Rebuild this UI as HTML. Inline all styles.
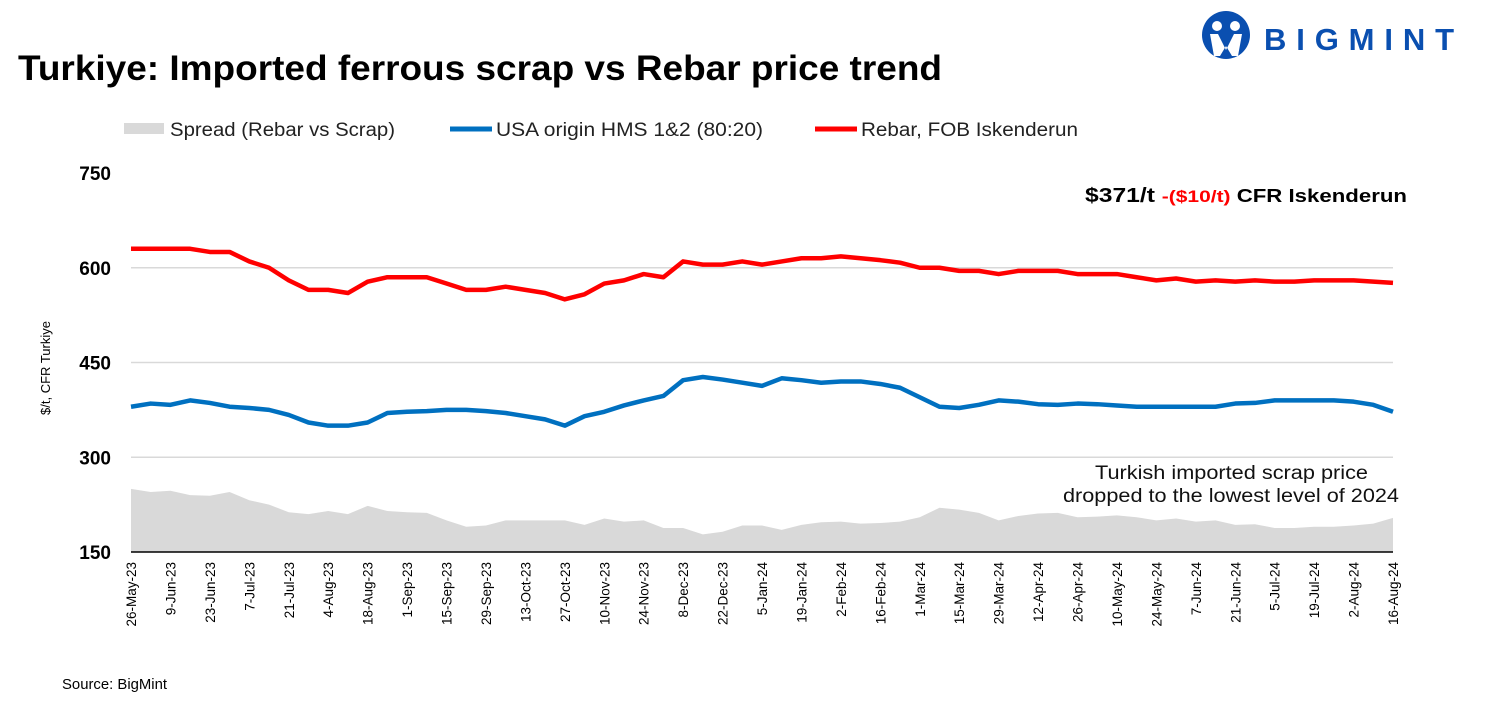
<!DOCTYPE html>
<html><head><meta charset="utf-8"><style>
body{margin:0;background:#fff;font-family:"Liberation Sans",Arial,sans-serif;}
#wrap{position:relative;width:1491px;height:728px;overflow:hidden;}
</style></head><body>
<div id="wrap">
<svg id="chart" width="1491" height="728" xmlns="http://www.w3.org/2000/svg">
  <text x="18" y="80" font-size="35" font-weight="bold" fill="#000" textLength="924" lengthAdjust="spacingAndGlyphs">Turkiye: Imported ferrous scrap vs Rebar price trend</text>
  <g>
    <circle cx="1226" cy="35" r="24" fill="#0a4fb0"/>
    <circle cx="1217" cy="26" r="5" fill="#fff"/>
    <circle cx="1235" cy="26" r="5" fill="#fff"/>
    <path d="M1210 34 L1218 34 L1226 50 L1234 34 L1242 34 L1238 56 L1232 56 L1226 46 L1220 56 L1214 56 Z" fill="#fff"/>
    <text x="1264" y="50" font-size="31" font-weight="bold" fill="#0a4fb0" textLength="190" lengthAdjust="spacing">BIGMINT</text>
  </g>
  <g>
    <rect x="124" y="123" width="40" height="11" fill="#d9d9d9"/>
    <text x="170" y="136" font-size="19" fill="#222" textLength="225" lengthAdjust="spacingAndGlyphs">Spread (Rebar vs Scrap)</text>
    <line x1="450" y1="129" x2="492" y2="129" stroke="#0070c0" stroke-width="5"/>
    <text x="496" y="136" font-size="19" fill="#222" textLength="267" lengthAdjust="spacingAndGlyphs">USA origin HMS 1&amp;2 (80:20)</text>
    <line x1="815" y1="129" x2="857" y2="129" stroke="#ff0000" stroke-width="5"/>
    <text x="861" y="136" font-size="19" fill="#222" textLength="217" lengthAdjust="spacingAndGlyphs">Rebar, FOB Iskenderun</text>
  </g>
  <text transform="translate(50,368) rotate(-90)" text-anchor="middle" font-size="13" fill="#000">$/t, CFR Turkiye</text>
  <g id="grid"></g>
  <g id="area"></g>
  <g id="lines"></g>
  <g id="xlabels"></g>
  <text x="1085" y="202" font-size="20" font-weight="bold" textLength="322" lengthAdjust="spacingAndGlyphs"><tspan fill="#000">$371/t </tspan><tspan fill="#ff0000" font-size="17">-($10/t)</tspan><tspan fill="#000" font-size="18"> CFR Iskenderun</tspan></text>
  <text x="1095" y="479" font-size="19" fill="#111" textLength="273" lengthAdjust="spacingAndGlyphs">Turkish imported scrap price</text>
  <text x="1063" y="502" font-size="19" fill="#111" textLength="336" lengthAdjust="spacingAndGlyphs">dropped to the lowest level of 2024</text>
  <text x="62" y="689" font-size="15" fill="#000" textLength="105" lengthAdjust="spacingAndGlyphs">Source: BigMint</text>
</svg>
</div>
<script>
const yTicks=[150,300,450,600,750];
const xTickLabels=["26-May-23","9-Jun-23","23-Jun-23","7-Jul-23","21-Jul-23","4-Aug-23","18-Aug-23","1-Sep-23","15-Sep-23","29-Sep-23","13-Oct-23","27-Oct-23","10-Nov-23","24-Nov-23","8-Dec-23","22-Dec-23","5-Jan-24","19-Jan-24","2-Feb-24","16-Feb-24","1-Mar-24","15-Mar-24","29-Mar-24","12-Apr-24","26-Apr-24","10-May-24","24-May-24","7-Jun-24","21-Jun-24","5-Jul-24","19-Jul-24","2-Aug-24","16-Aug-24"];
const rebar=[630,630,630,630,625,625,610,600,580,565,565,560,578,585,585,585,575,565,565,570,565,560,550,558,575,580,590,585,610,605,605,610,605,610,615,615,618,615,612,608,600,600,595,595,590,595,595,595,590,590,590,585,580,583,578,580,578,580,578,578,580,580,580,578,576];
const hms=[380,385,383,390,386,380,378,375,367,355,350,350,355,370,372,373,375,375,373,370,365,360,350,365,372,382,390,397,422,427,423,418,413,425,422,418,420,420,416,410,395,380,378,383,390,388,384,383,385,384,382,380,380,380,380,380,385,386,390,390,390,390,388,383,372];
const spread=rebar.map((r,i)=>r-hms[i]);
const NS='http://www.w3.org/2000/svg';
const X0=131,X1=1393,Y150=552,Y750=173;
const yS=v=>Y150-(v-150)*(Y150-Y750)/600;
const xS=i=>X0+i*(X1-X0)/(rebar.length-1);
const grid=document.getElementById('grid');
yTicks.forEach(t=>{
  const y=yS(t);
  if(t>150&&t<750){const l=document.createElementNS(NS,'line');
    l.setAttribute('x1',X0);l.setAttribute('x2',X1);l.setAttribute('y1',y);l.setAttribute('y2',y);
    l.setAttribute('stroke','#d9d9d9');l.setAttribute('stroke-width','1.5');
    
    
    grid.appendChild(l);}
  const tx=document.createElementNS(NS,'text');
  tx.setAttribute('x',111);tx.setAttribute('y',y+7);tx.setAttribute('text-anchor','end');
  tx.setAttribute('font-size','19');tx.setAttribute('font-weight','bold');tx.textContent=t;
  
  
  grid.appendChild(tx);
});
let d='M'+xS(0)+','+yS(150);
spread.forEach((v,i)=>{d+=' L'+xS(i)+','+yS(v);});
d+=' L'+xS(spread.length-1)+','+yS(150)+' Z';
const ar=document.createElementNS(NS,'path');
ar.setAttribute('d',d);ar.setAttribute('fill','#d9d9d9');


document.getElementById('area').appendChild(ar);
const ax=document.createElementNS(NS,'line');
ax.setAttribute('x1',X0);ax.setAttribute('x2',X1);ax.setAttribute('y1',Y150);ax.setAttribute('y2',Y150);
ax.setAttribute('stroke','#000');ax.setAttribute('stroke-width','1.5');


document.getElementById('area').appendChild(ax);
function line(arr,color,name){
  const p=document.createElementNS(NS,'polyline');
  p.setAttribute('points',arr.map((v,i)=>xS(i)+','+yS(v)).join(' '));
  p.setAttribute('fill','none');p.setAttribute('stroke',color);p.setAttribute('stroke-width','4.5');
  p.setAttribute('stroke-linejoin','round');
  
  
  document.getElementById('lines').appendChild(p);
}
line(hms,'#0070c0','hms-line');
line(rebar,'#ff0000','rebar-line');
const xl=document.getElementById('xlabels');
xTickLabels.forEach((s,k)=>{
  const x=X0+k*(X1-X0)/(xTickLabels.length-1);
  const t=document.createElementNS(NS,'text');
  t.setAttribute('transform','translate('+(x+5)+',562) rotate(-90)');
  t.setAttribute('text-anchor','end');t.setAttribute('font-size','13.5');t.textContent=s;
  
  
  xl.appendChild(t);
});
</script>
</body></html>
